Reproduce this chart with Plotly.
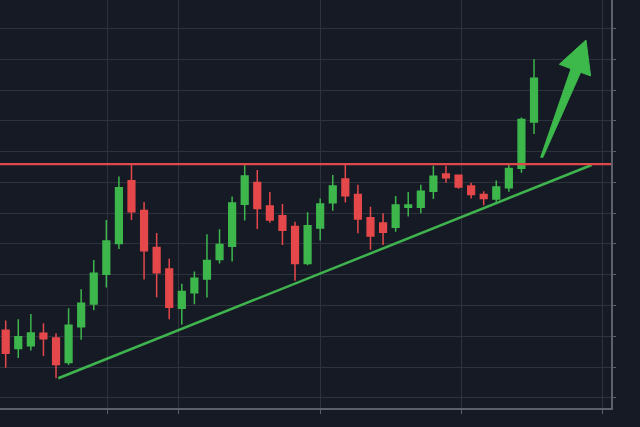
import plotly.graph_objects as go

idx = list(range(43))
opens  = [122.0,116.1,117.0,121.0,119.5,111.5,123.1,130.5,140.2,150.2,
          170.5,160.9,148.9,141.9,129.1,134.2,138.6,145.0,149.3,162.9,
          170.0,162.3,159.2,155.7,143.7,155.2,163.4,171.1,166.1,158.5,
          156.8,155.4,161.9,161.9,167.1,172.7,172.3,168.8,166.1,164.6,
          168.3,174.6,189.6]
highs  = [125.2,125.6,127.3,124.3,121.0,129.1,135.3,144.8,157.8,171.9,
          175.7,163.6,153.6,145.2,137.1,141.1,153.2,154.8,165.4,175.6,
          174.0,166.9,163.0,157.2,160.3,164.8,172.4,175.7,169.2,162.1,
          160.0,165.6,166.9,169.2,175.4,175.4,172.4,169.9,167.1,170.6,
          176.0,191.1,210.0]
lows   = [109.8,113.0,115.4,113.6,106.4,110.7,118.9,128.5,135.9,148.4,
          157.8,138.5,132.7,125.6,123.9,130.4,132.6,143.7,144.3,157.6,
          154.9,156.9,149.7,138.1,143.1,151.1,160.8,163.5,153.5,148.1,
          149.7,154.0,158.9,160.0,164.6,169.9,167.9,164.8,162.6,163.7,
          167.0,173.1,185.7]
closes = [114.5,119.9,121.1,119.2,110.9,123.6,130.8,140.5,151.0,168.3,
          160.5,147.8,140.7,129.5,134.6,138.9,144.6,149.8,163.3,172.1,
          161.5,157.8,154.5,143.7,155.9,163.0,168.8,165.7,158.1,152.6,
          153.8,162.7,162.7,167.1,172.0,171.5,168.5,166.1,164.8,168.5,
          174.5,190.4,203.8]

resistance = 175.9
trend_x = [4.18, 46.58]
trend_y = [106.4, 175.65]
arrow_x = [42.53, 44.94, 44.01, 46.13, 46.50, 45.71, 42.71]
arrow_y = [178.15, 206.9, 208.34, 216.23, 204.55, 205.75, 178.15]
x_ticks = [8.13, 13.7, 25.0, 36.2, 47.48]

GREEN = "#3db64c"
RED = "#e5484a"
BG = "#161a25"
GRID = "#2e323d"
AXIS = "#5c606b"

fig = go.Figure()
fig.add_trace(go.Candlestick(
    x=idx, open=opens, high=highs, low=lows, close=closes,
    increasing=dict(line=dict(color=GREEN, width=1.5), fillcolor=GREEN),
    decreasing=dict(line=dict(color=RED, width=1.5), fillcolor=RED),
    whiskerwidth=0, showlegend=False, hoverinfo="skip"))

fig.add_trace(go.Scatter(x=trend_x, y=trend_y, mode="lines",
                         line=dict(color="#3fb44e", width=2.5),
                         showlegend=False, hoverinfo="skip"))

fig.add_shape(type="line", xref="paper", x0=0, x1=1, yref="y",
              y0=resistance, y1=resistance,
              line=dict(color="#e0494b", width=2.2))

path = "M " + " L ".join(f"{x},{y}" for x, y in zip(arrow_x, arrow_y)) + " Z"
fig.add_shape(type="path", path=path, xref="x", yref="y",
              fillcolor="#3db84b", line=dict(color="#3db84b", width=1))

fig.update_layout(
    width=640, height=427,
    margin=dict(l=0, r=29, t=0, b=19),
    paper_bgcolor=BG, plot_bgcolor=BG,
    boxgap=0.24,
    xaxis=dict(range=[-0.453, 48.12], rangeslider=dict(visible=False),
               tickvals=x_ticks, showticklabels=False,
               showgrid=True, gridcolor=GRID, gridwidth=1,
               ticks="outside", ticklen=4, tickcolor=AXIS,
               showline=True, linecolor=AXIS, linewidth=1.5,
               zeroline=False, fixedrange=True),
    yaxis=dict(range=[96.75, 229.22], side="right",
               tick0=100, dtick=10, showticklabels=False,
               showgrid=True, gridcolor=GRID, gridwidth=1,
               ticks="outside", ticklen=3, tickcolor=AXIS,
               showline=True, linecolor=AXIS, linewidth=1.5,
               zeroline=False, fixedrange=True),
)

fig.write_html("out.html", config={"displayModeBar": False},
               post_script="document.body.style.margin='0';"
                           "document.body.style.background='" + BG + "';")
